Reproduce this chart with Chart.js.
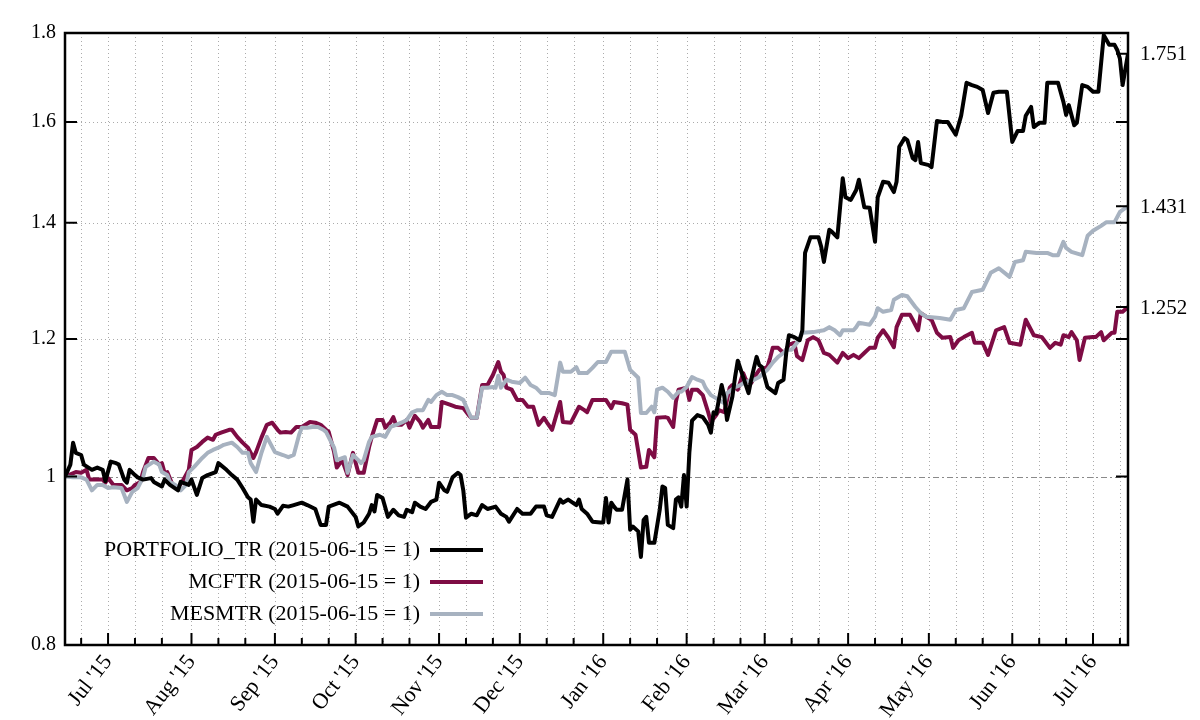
<!DOCTYPE html>
<html>
<head>
<meta charset="utf-8">
<title>Total return index</title>
<script src="https://cdn.jsdelivr.net/npm/chart.js@4.4.1/dist/chart.umd.min.js"></script>
<style>
  html, body { margin: 0; padding: 0; background: #fff; }
</style>
</head>
<body>
<canvas id="trChart" width="1200" height="720"></canvas>
<script>
// all series rebased to 1 on this date, x values are days since then
const baseDate = '2015-06-15';
const lastDate = '2016-07-14';

const seriesNames = ['PORTFOLIO_TR (2015-06-15 = 1)', 'MCFTR (2015-06-15 = 1)', 'MESMTR (2015-06-15 = 1)'];
const seriesColors = ['#000000', '#7e0c44', '#a7b2c0'];

const portfolioDays = [0, 2, 3, 4, 6, 7, 10, 12, 14, 15, 17, 19, 20, 22, 23, 24, 26, 27, 29, 32, 33, 36, 37, 39, 42, 43, 46, 47, 49, 51,
  53, 56, 57, 60, 62, 64, 66, 68, 69, 70, 71, 73, 76, 78, 79, 81, 83, 85, 88, 90, 93, 95, 97, 98, 102, 105, 108, 109, 111, 113,
  114, 115, 116, 118, 120, 122, 124, 126, 127, 129, 130, 132, 134, 136, 138, 139, 141, 142, 144, 146, 147, 148, 149, 151, 153, 155, 157, 160, 162, 164,
  165, 168, 170, 173, 175, 178, 179, 181, 184, 185, 187, 190, 191, 192, 194, 196, 199, 200, 201, 202, 203, 204, 205, 207, 209, 210, 211, 213, 214, 215,
  216, 217, 219, 221, 222, 223, 224, 226, 227, 228, 229, 230, 231, 232, 233, 235, 237, 239, 240, 241, 242, 244, 245, 246, 248, 249, 250, 252, 254, 255,
  256, 257, 258, 259, 261, 264, 265, 267, 268, 269, 271, 273, 274, 275, 277, 280, 281, 282, 284, 285, 287, 289, 290, 292, 294, 295, 297, 299, 301, 302,
  304, 306, 308, 309, 310, 312, 313, 315, 316, 317, 318, 321, 322, 324, 326, 328, 331, 333, 335, 337, 339, 341, 343, 345, 347, 350, 352, 354, 356, 357,
  359, 360, 362, 364, 365, 367, 369, 371, 372, 373, 375, 376, 378, 380, 382, 384, 386, 388, 390, 391, 392, 393, 395];
const portfolioVals = [1.000, 1.016, 1.046, 1.032, 1.029, 1.016, 1.009, 1.012, 1.009, 0.994, 1.020, 1.018, 1.016, 0.996, 0.992, 1.009, 1.002, 0.999, 0.996, 0.998, 0.993, 0.987, 0.996, 0.989, 0.982, 0.993, 0.989, 0.996, 0.976, 0.998,
  1.002, 1.006, 1.018, 1.009, 1.002, 0.996, 0.985, 0.973, 0.970, 0.942, 0.970, 0.963, 0.961, 0.958, 0.952, 0.962, 0.961, 0.963, 0.966, 0.963, 0.958, 0.938, 0.938, 0.961, 0.966, 0.961, 0.948, 0.936, 0.941, 0.952,
  0.963, 0.955, 0.976, 0.972, 0.948, 0.957, 0.950, 0.948, 0.957, 0.954, 0.966, 0.961, 0.958, 0.967, 0.970, 0.992, 0.982, 0.980, 0.999, 1.005, 1.002, 0.982, 0.947, 0.952, 0.950, 0.963, 0.958, 0.961, 0.952, 0.948,
  0.942, 0.958, 0.952, 0.952, 0.961, 0.961, 0.950, 0.948, 0.970, 0.966, 0.970, 0.963, 0.970, 0.958, 0.952, 0.942, 0.941, 0.941, 0.972, 0.941, 0.966, 0.961, 0.957, 0.957, 0.996, 0.932, 0.936, 0.930, 0.899, 0.944,
  0.948, 0.916, 0.916, 0.957, 0.987, 0.985, 0.938, 0.934, 0.970, 0.973, 0.961, 1.002, 0.961, 1.032, 1.077, 1.085, 1.082, 1.071, 1.060, 1.089, 1.087, 1.129, 1.112, 1.078, 1.112, 1.141, 1.166, 1.141, 1.117, 1.137,
  1.155, 1.172, 1.159, 1.156, 1.126, 1.117, 1.132, 1.137, 1.178, 1.206, 1.203, 1.198, 1.214, 1.345, 1.373, 1.373, 1.356, 1.329, 1.387, 1.383, 1.373, 1.485, 1.448, 1.443, 1.462, 1.482, 1.429, 1.428, 1.365, 1.448,
  1.478, 1.476, 1.458, 1.478, 1.548, 1.566, 1.562, 1.525, 1.521, 1.558, 1.515, 1.511, 1.507, 1.602, 1.600, 1.600, 1.573, 1.613, 1.685, 1.680, 1.676, 1.669, 1.619, 1.663, 1.665, 1.665, 1.558, 1.581, 1.581, 1.613,
  1.632, 1.589, 1.598, 1.598, 1.685, 1.685, 1.685, 1.643, 1.615, 1.636, 1.593, 1.598, 1.680, 1.676, 1.665, 1.665, 1.795, 1.772, 1.772, 1.760, 1.740, 1.680, 1.751];

const mcftrDays = [0, 4, 6, 8, 9, 14, 15, 16, 18, 21, 23, 25, 26, 28, 29, 31, 33, 35, 36, 37, 38, 40, 42, 44, 46, 47, 49, 51, 53, 55,
  56, 58, 61, 62, 64, 66, 68, 70, 71, 73, 75, 77, 79, 80, 82, 84, 86, 88, 91, 93, 95, 97, 98, 100, 101, 103, 105, 107, 109, 111,
  113, 114, 116, 118, 119, 121, 122, 123, 125, 127, 128, 130, 132, 133, 135, 136, 139, 140, 143, 145, 148, 150, 151, 153, 155, 157, 159, 161, 162, 163,
  164, 166, 168, 170, 172, 174, 176, 178, 179, 181, 184, 185, 188, 191, 193, 194, 196, 199, 201, 203, 204, 207, 209, 210, 212, 214, 216, 217, 219, 220,
  223, 224, 226, 227, 228, 231, 232, 233, 235, 237, 239, 240, 242, 243, 245, 247, 248, 250, 252, 253, 255, 256, 258, 261, 262, 263, 265, 267, 268, 269,
  271, 272, 274, 276, 278, 280, 282, 284, 287, 289, 291, 293, 295, 297, 299, 301, 302, 304, 306, 308, 309, 311, 314, 315, 317, 318, 320, 322, 324, 326,
  329, 330, 332, 334, 337, 338, 341, 343, 346, 349, 351, 355, 357, 360, 363, 366, 368, 370, 371, 373, 374, 376, 377, 379, 382, 383, 385, 386, 389, 390,
  391, 393, 395];
const mcftrVals = [1.000, 1.006, 1.005, 1.009, 0.996, 0.996, 0.992, 0.998, 0.989, 0.989, 0.982, 0.985, 0.989, 0.993, 1.006, 1.025, 1.025, 1.016, 1.018, 1.005, 1.006, 0.989, 0.985, 0.996, 1.009, 1.036, 1.040, 1.047, 1.053, 1.050,
  1.057, 1.060, 1.064, 1.064, 1.054, 1.046, 1.039, 1.025, 1.033, 1.053, 1.071, 1.074, 1.064, 1.060, 1.061, 1.060, 1.068, 1.068, 1.075, 1.074, 1.071, 1.064, 1.061, 1.033, 1.012, 1.022, 1.002, 1.032, 1.005, 1.005,
  1.040, 1.054, 1.078, 1.078, 1.067, 1.075, 1.082, 1.071, 1.071, 1.078, 1.067, 1.084, 1.075, 1.067, 1.078, 1.068, 1.068, 1.104, 1.100, 1.097, 1.095, 1.085, 1.081, 1.081, 1.129, 1.129, 1.144, 1.164, 1.149, 1.144,
  1.125, 1.122, 1.107, 1.107, 1.097, 1.097, 1.071, 1.081, 1.075, 1.064, 1.104, 1.075, 1.074, 1.097, 1.092, 1.089, 1.107, 1.107, 1.107, 1.095, 1.104, 1.102, 1.100, 1.064, 1.057, 1.012, 1.013, 1.036, 1.026, 1.081,
  1.082, 1.081, 1.068, 1.104, 1.122, 1.125, 1.107, 1.122, 1.122, 1.114, 1.089, 1.075, 1.085, 1.092, 1.089, 1.125, 1.129, 1.122, 1.147, 1.137, 1.132, 1.140, 1.152, 1.156, 1.170, 1.186, 1.186, 1.178, 1.183, 1.191,
  1.194, 1.173, 1.167, 1.198, 1.203, 1.198, 1.178, 1.175, 1.163, 1.178, 1.170, 1.175, 1.170, 1.178, 1.186, 1.186, 1.202, 1.214, 1.202, 1.187, 1.219, 1.239, 1.239, 1.231, 1.214, 1.242, 1.236, 1.231, 1.210, 1.202,
  1.203, 1.186, 1.198, 1.203, 1.210, 1.194, 1.194, 1.175, 1.214, 1.219, 1.194, 1.191, 1.231, 1.206, 1.203, 1.186, 1.194, 1.191, 1.206, 1.203, 1.211, 1.198, 1.167, 1.202, 1.203, 1.203, 1.211, 1.198, 1.210, 1.210,
  1.244, 1.244, 1.252];

const mesmtrDays = [0, 3, 6, 8, 10, 12, 14, 16, 18, 21, 23, 25, 27, 29, 30, 33, 35, 36, 38, 39, 41, 43, 45, 46, 48, 51, 53, 55, 57, 59,
  62, 64, 66, 68, 69, 71, 73, 75, 78, 81, 83, 85, 87, 88, 90, 92, 94, 96, 97, 100, 101, 104, 105, 107, 109, 110, 111, 113, 114, 117,
  119, 121, 123, 125, 127, 129, 131, 133, 135, 136, 138, 140, 142, 144, 146, 148, 150, 151, 153, 155, 157, 159, 160, 161, 162, 164, 166, 169, 171, 173,
  175, 177, 180, 182, 184, 185, 188, 190, 191, 194, 196, 198, 201, 203, 208, 210, 213, 214, 216, 218, 219, 220, 222, 224, 226, 228, 229, 231, 233, 235,
  237, 238, 240, 243, 245, 246, 249, 251, 253, 256, 258, 261, 263, 265, 267, 268, 270, 272, 274, 278, 282, 284, 286, 288, 289, 293, 294, 295, 299, 301,
  302, 304, 307, 308, 311, 313, 316, 318, 320, 325, 329, 331, 334, 337, 341, 344, 347, 351, 353, 356, 357, 361, 365, 367, 369, 371, 372, 374, 378, 380,
  382, 385, 387, 390, 392, 395];
const mesmtrVals = [1.000, 0.999, 0.999, 0.996, 0.982, 0.989, 0.989, 0.985, 0.986, 0.985, 0.967, 0.980, 0.985, 0.999, 1.013, 1.020, 1.016, 1.006, 1.002, 0.993, 0.989, 0.982, 0.989, 1.006, 1.013, 1.025, 1.032, 1.036, 1.039, 1.043,
  1.046, 1.040, 1.032, 1.032, 1.018, 1.006, 1.032, 1.054, 1.033, 1.029, 1.026, 1.029, 1.057, 1.067, 1.067, 1.068, 1.068, 1.064, 1.061, 1.039, 1.022, 1.026, 1.005, 1.029, 1.022, 1.018, 1.022, 1.047, 1.054, 1.057,
  1.054, 1.068, 1.071, 1.074, 1.078, 1.089, 1.092, 1.092, 1.107, 1.104, 1.114, 1.119, 1.114, 1.114, 1.111, 1.107, 1.089, 1.081, 1.081, 1.125, 1.125, 1.126, 1.125, 1.143, 1.125, 1.137, 1.134, 1.132, 1.140, 1.129,
  1.125, 1.117, 1.117, 1.114, 1.163, 1.149, 1.149, 1.156, 1.147, 1.147, 1.155, 1.164, 1.164, 1.180, 1.180, 1.152, 1.140, 1.088, 1.088, 1.097, 1.089, 1.122, 1.125, 1.119, 1.110, 1.119, 1.119, 1.126, 1.141, 1.137,
  1.134, 1.125, 1.114, 1.107, 1.102, 1.117, 1.126, 1.129, 1.134, 1.137, 1.141, 1.152, 1.163, 1.172, 1.178, 1.183, 1.183, 1.194, 1.210, 1.211, 1.214, 1.219, 1.214, 1.206, 1.214, 1.214, 1.219, 1.226, 1.223, 1.236,
  1.250, 1.244, 1.247, 1.264, 1.272, 1.270, 1.252, 1.242, 1.236, 1.234, 1.231, 1.247, 1.250, 1.277, 1.281, 1.310, 1.318, 1.303, 1.329, 1.332, 1.347, 1.345, 1.345, 1.341, 1.341, 1.365, 1.354, 1.347, 1.341, 1.376,
  1.385, 1.394, 1.401, 1.401, 1.420, 1.431];

const monthStarts = ['2015-07-01', '2015-08-01', '2015-09-01', '2015-10-01', '2015-11-01', '2015-12-01', '2016-01-01',
  '2016-02-01', '2016-03-01', '2016-04-01', '2016-05-01', '2016-06-01', '2016-07-01'];
const monthLabels = ["Jul '15", "Aug '15", "Sep '15", "Oct '15", "Nov '15", "Dec '15", "Jan '16",
  "Feb '16", "Mar '16", "Apr '16", "May '16", "Jun '16", "Jul '16"];
const yTicks = [0.8, 1, 1.2, 1.4, 1.6, 1.8];

const FONT = '"Liberation Serif", "Times New Roman", serif';
const DAY = 86400000;
const t0 = Date.parse(baseDate + 'T00:00:00Z');
const dayOf = s => Math.round((Date.parse(s + 'T00:00:00Z') - t0) / DAY);
const lastDay = dayOf(lastDate);

const labelAt = {};
monthStarts.forEach((s, i) => { labelAt[dayOf(s)] = monthLabels[i]; });

// ticks + dotted grid on the 1st, 11th and 21st of every month
const gridDays = [];
for (let d = 0; d <= lastDay; d++) {
  const dom = new Date(t0 + d * DAY).getUTCDate();
  if (dom === 1 || dom === 11 || dom === 21) gridDays.push(d);
}

const pts = (days, vals) => days.map((d, i) => ({ x: d, y: vals[i] }));

// gnuplot-ish frame: inward ticks, dotted grid, legend inside, end values on the right
const framePlugin = {
  id: 'framePlugin',
  beforeDatasetsDraw(chart) {
    const { ctx, chartArea: a, scales: { x, y } } = chart;
    ctx.save();
    ctx.lineWidth = 1;
    ctx.strokeStyle = '#ababab';
    ctx.setLineDash([1, 3]);
    ctx.beginPath();
    gridDays.forEach(d => {
      const px = Math.round(x.getPixelForValue(d)) + 0.5;
      ctx.moveTo(px, a.top);
      ctx.lineTo(px, a.bottom);
    });
    yTicks.slice(1, -1).forEach(v => {
      if (v === 1) return;
      const py = Math.round(y.getPixelForValue(v)) + 0.5;
      ctx.moveTo(a.left, py);
      ctx.lineTo(a.right, py);
    });
    ctx.stroke();

    const p1 = Math.round(y.getPixelForValue(1)) + 0.5;
    ctx.strokeStyle = '#8a8a8a';
    ctx.setLineDash([6, 3, 2, 3]);
    ctx.beginPath();
    ctx.moveTo(a.left, p1);
    ctx.lineTo(a.right, p1);
    ctx.stroke();
    ctx.restore();
  },
  afterDatasetsDraw(chart) {
    const { ctx, chartArea: a, scales: { x, y } } = chart;
    const sets = chart.data.datasets;
    ctx.save();

    ctx.strokeStyle = '#000';
    ctx.lineWidth = 2;
    ctx.beginPath();
    gridDays.forEach(d => {
      const px = x.getPixelForValue(d);
      ctx.moveTo(px, a.bottom);
      ctx.lineTo(px, a.bottom - (labelAt[d] ? 12 : 7));
    });
    const rightTicks = yTicks.concat(sets.map(ds => ds.data[ds.data.length - 1].y));
    yTicks.forEach(v => {
      const py = y.getPixelForValue(v);
      ctx.moveTo(a.left, py);
      ctx.lineTo(a.left + 12, py);
    });
    rightTicks.forEach(v => {
      const py = y.getPixelForValue(v);
      ctx.moveTo(a.right, py);
      ctx.lineTo(a.right - 12, py);
    });
    ctx.stroke();
    ctx.lineWidth = 2.5;
    ctx.strokeRect(a.left, a.top, a.right - a.left, a.bottom - a.top);

    // legend
    ctx.font = '22px ' + FONT;
    ctx.fillStyle = '#000';
    ctx.textAlign = 'right';
    ctx.textBaseline = 'middle';
    sets.forEach((ds, i) => {
      const ly = a.bottom - 95 + i * 32;
      ctx.fillText(ds.label, a.left + 355, ly);
      ctx.strokeStyle = ds.borderColor;
      ctx.lineWidth = 4;
      ctx.beginPath();
      ctx.moveTo(a.left + 365, ly);
      ctx.lineTo(a.left + 418, ly);
      ctx.stroke();
    });

    // last values
    ctx.font = '21px ' + FONT;
    ctx.textAlign = 'left';
    sets.forEach(ds => {
      const v = ds.data[ds.data.length - 1].y;
      ctx.fillText(v.toFixed(3), a.right + 12, y.getPixelForValue(v) + 1);
    });
    ctx.restore();
  }
};

const trChart = new Chart(document.getElementById('trChart').getContext('2d'), {
  type: 'line',
  data: {
    datasets: [
      { label: seriesNames[0], data: pts(portfolioDays, portfolioVals), borderColor: seriesColors[0], order: 0 },
      { label: seriesNames[1], data: pts(mcftrDays, mcftrVals), borderColor: seriesColors[1], order: 2 },
      { label: seriesNames[2], data: pts(mesmtrDays, mesmtrVals), borderColor: seriesColors[2], order: 1 }
    ]
  },
  options: {
    responsive: false,
    animation: false,
    events: [],
    layout: { padding: { top: 33, right: 72, left: 0, bottom: 0 } },
    elements: {
      line: { borderWidth: 4, tension: 0, borderJoinStyle: 'round', fill: false },
      point: { radius: 0 }
    },
    plugins: {
      legend: { display: false },
      tooltip: { enabled: false }
    },
    scales: {
      x: {
        type: 'linear',
        min: 0,
        max: lastDay,
        afterBuildTicks: s => { s.ticks = gridDays.map(v => ({ value: v })); },
        afterFit: s => { s.height = 75; },
        grid: { display: false, drawTicks: false },
        border: { display: false },
        ticks: {
          autoSkip: false,
          minRotation: 52,
          maxRotation: 52,
          padding: 5,
          color: '#000',
          font: { family: FONT, size: 22 },
          callback: v => labelAt[v] || ''
        }
      },
      y: {
        type: 'logarithmic',
        min: 0.8,
        max: 1.8,
        afterBuildTicks: s => { s.ticks = yTicks.map(v => ({ value: v })); },
        afterFit: s => { s.width = 65; },
        grid: { display: false, drawTicks: false },
        border: { display: false },
        ticks: {
          padding: 9,
          color: '#000',
          font: { family: FONT, size: 20 },
          callback: v => String(v)
        }
      }
    }
  },
  plugins: [framePlugin]
});
</script>
</body>
</html>
